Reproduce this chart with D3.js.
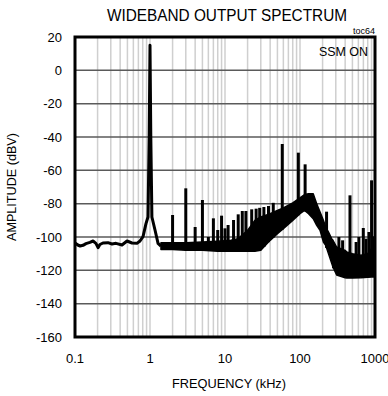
<!DOCTYPE html>
<html><head><meta charset="utf-8">
<script src="https://cdn.jsdelivr.net/npm/d3@7"></script>
<style>body{margin:0;background:#fff}svg{display:block;font-family:"Liberation Sans",Arial,sans-serif}</style>
</head><body><svg id="c" width="388" height="396"></svg>
<script>
// ---- data (frequency in kHz, amplitude in dBV) ----
const traceFreq = [0.1,0.109,0.117,0.128,0.14,0.158,0.174,0.19,0.203,0.215,0.236,0.275,0.311,0.352,0.423,0.494,0.575,0.67,0.736,0.807,0.884,0.94,0.975,1.0,1.025,1.06,1.166,1.28,1.4];
const traceDb   = [-103.5,-104.8,-105.4,-105,-104,-103.2,-102.4,-103.8,-106.4,-104.5,-103.6,-103.4,-104.2,-103.8,-104.8,-102.4,-103.6,-103.8,-102.4,-99.8,-92,-88,-40,15,-40,-88,-95.8,-103.8,-105.5];

const bandFreq = [1.4,2,3,5,8,12,15,20,25,30,40,50,60,80,100,115,130,150,167,185,205,220,240,264,275,308,400,420,500,650,800,900,960];
const bandLow  = [-107.5,-107.5,-108,-108,-108.5,-108.5,-108.5,-108.5,-108.5,-108,-102,-98,-95,-90,-86,-84,-86,-89,-93,-96,-103,-105,-110,-115.6,-118,-122.8,-124.5,-124.6,-124.6,-124.5,-124.2,-124,-124];
const bandHigh = [-103.5,-103.5,-103.5,-103,-102.5,-102,-101,-96,-90,-88,-86,-84,-82.5,-79.5,-76.5,-74.5,-74,-74,-80,-85,-90,-94,-97,-101,-102,-106,-108,-109,-110,-111,-110,-107,-100];

const spurFreq = [2,3,4,5,6,7,8,9,10,11,13,15,17,19,22.7,26,29,33,38,44,58,95,117,226,280,330,370,464,560,610,698,760,830,900];
const spurTop  = [-86.8,-70.8,-94,-77.8,-100,-88.8,-95.8,-87.2,-94.8,-92.8,-89.8,-86.4,-84.4,-84.4,-83.4,-83,-82.5,-82,-81.4,-79.5,-44.2,-49.4,-56.4,-84.8,-104,-100,-102,-75,-103,-100,-94.6,-101,-97,-66];

const yTicks = [20,0,-20,-40,-60,-80,-100,-120,-140,-160];
const xTicks = [0.1,1,10,100,1000];
const xTickLabels = ["0.1","1","10","100","1000"];

// ---- layout ----
const svg = d3.select("#c");
const L = 75, T = 37, R = 375, B = 337;
const x = d3.scaleLog().domain([0.1,1000]).range([L,R]);
const y = d3.scaleLinear().domain([-160,20]).range([B,T]);

svg.append("defs").append("clipPath").attr("id","pc")
  .append("rect").attr("x",L).attr("y",T).attr("width",R-L).attr("height",B-T);

// grid
const g = svg.append("g");
g.selectAll("line.v").data(x.ticks()).enter().append("line")
  .attr("x1",d=>x(d)).attr("x2",d=>x(d)).attr("y1",T).attr("y2",B)
  .attr("stroke","#cfcfcf").attr("stroke-width",1.5);
g.selectAll("line.h").data(yTicks.slice(1,-1)).enter().append("line")
  .attr("x1",L).attr("x2",R).attr("y1",d=>y(d)).attr("y2",d=>y(d))
  .attr("stroke","#5a5a5a").attr("stroke-width",1.5);

const plot = svg.append("g").attr("clip-path","url(#pc)");

// dense band
const band = bandFreq.map((f,i)=>({f,lo:bandLow[i],hi:bandHigh[i]}));
plot.append("path").datum(band)
  .attr("d",d3.area().x(d=>x(d.f)).y0(d=>y(d.lo)).y1(d=>y(d.hi)))
  .attr("fill","#000").attr("stroke","#000").attr("stroke-width",1.5).attr("stroke-linejoin","round");

// main trace
const tr = traceFreq.map((f,i)=>({f,v:traceDb[i]}));
plot.append("path").datum(tr)
  .attr("d",d3.line().x(d=>x(d.f)).y(d=>y(d.v)))
  .attr("fill","none").attr("stroke","#000").attr("stroke-width",3).attr("stroke-linejoin","round");

// spurs
const baseAt = d3.scaleLog().domain(bandFreq).range(bandLow);
plot.selectAll("line.sp").data(spurFreq.map((f,i)=>({f,top:spurTop[i]}))).enter().append("line")
  .attr("x1",d=>x(d.f)).attr("x2",d=>x(d.f))
  .attr("y1",d=>y(d.top)).attr("y2",d=>y(baseAt(d.f)))
  .attr("stroke","#000").attr("stroke-width",3);

// frame
svg.append("rect").attr("x",L).attr("y",T).attr("width",R-L).attr("height",B-T)
  .attr("fill","none").attr("stroke","#000").attr("stroke-width",3);

// tick labels
svg.selectAll("text.yt").data(yTicks).enter().append("text")
  .attr("x",62).attr("y",d=>y(d)+4.5).attr("text-anchor","end")
  .attr("font-size",13).attr("fill","#000").text(d=>d);
svg.selectAll("text.xt").data(xTicks).enter().append("text")
  .attr("x",d=>x(d)).attr("y",363).attr("text-anchor","middle")
  .attr("font-size",13).attr("fill","#000").text((d,i)=>xTickLabels[i]);

// titles
svg.append("text").attr("x",227).attr("y",21).attr("text-anchor","middle")
  .attr("font-size",16).attr("textLength",240).attr("lengthAdjust","spacingAndGlyphs").text("WIDEBAND OUTPUT SPECTRUM");
svg.append("text").attr("x",229).attr("y",388).attr("text-anchor","middle")
  .attr("font-size",13).attr("textLength",114).attr("lengthAdjust","spacingAndGlyphs").text("FREQUENCY (kHz)");
svg.append("text").attr("transform","translate(16,187) rotate(-90)").attr("text-anchor","middle")
  .attr("font-size",13).attr("textLength",108).attr("lengthAdjust","spacingAndGlyphs").text("AMPLITUDE (dBV)");
svg.append("text").attr("x",375).attr("y",34).attr("text-anchor","end")
  .attr("font-size",9).text("toc64");
svg.append("text").attr("x",368).attr("y",56).attr("text-anchor","end")
  .attr("font-size",13).attr("textLength",49).attr("lengthAdjust","spacingAndGlyphs").text("SSM ON");
</script></body></html>
